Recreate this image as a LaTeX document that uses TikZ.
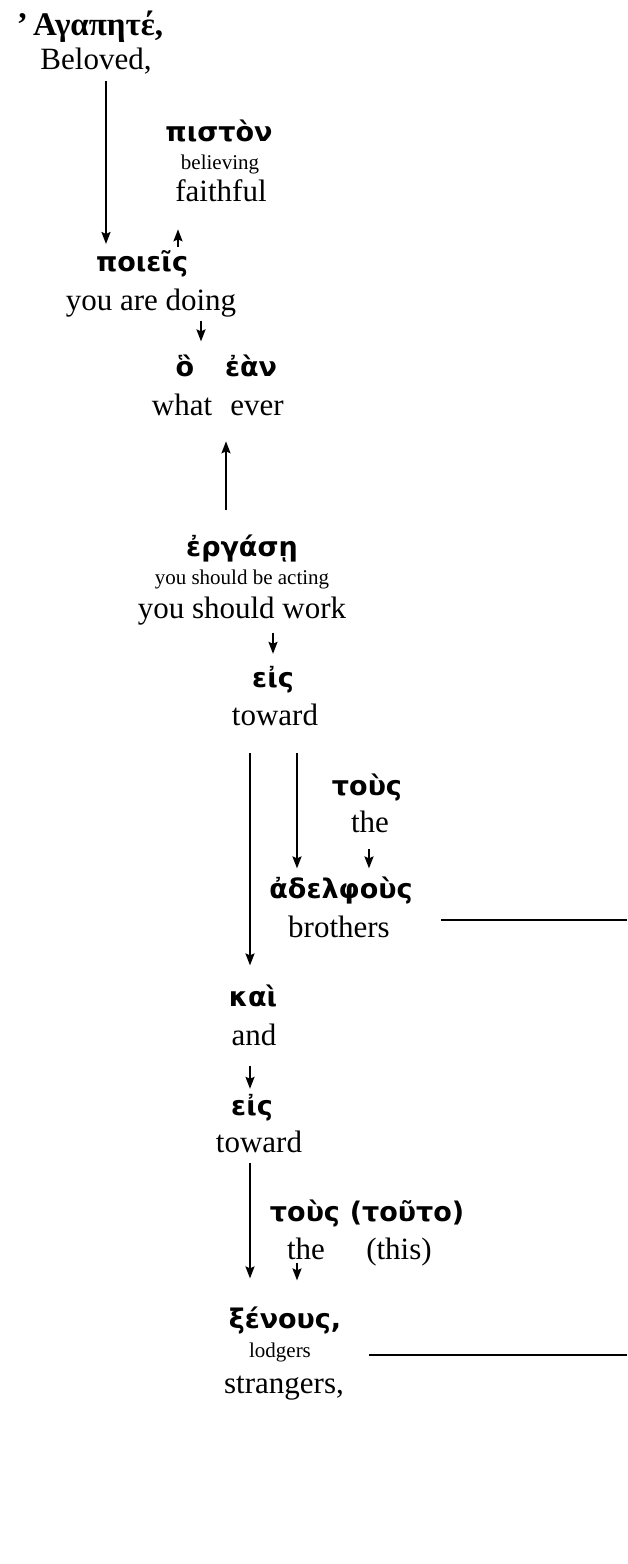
\documentclass[tikz,border=0pt]{standalone}
\usepackage{fontspec}
\setmainfont{Liberation Serif}
\newfontfamily\greekfont{DejaVu Sans}
\usetikzlibrary{arrows.meta}

\begin{document}
\begin{tikzpicture}[x=1pt,y=-1pt,->,>={Stealth[length=12pt,width=9pt,inset=2pt]},shorten >=1pt,line width=2pt,
    gk/.style={anchor=base,inner sep=0pt,font=\greekfont\bfseries\fontsize{27}{30}\selectfont},
    gkserif/.style={anchor=base,inner sep=0pt,font=\bfseries\fontsize{33}{38}\selectfont},
    en/.style={anchor=base,inner sep=0pt,font=\fontsize{31}{36}\selectfont},
    sm/.style={anchor=base,inner sep=0pt,font=\fontsize{21}{24}\selectfont}]
  \useasboundingbox (0,0) rectangle (628,1564);

  \node[gkserif] (agapete) at (90,35) {’\,Αγαπητέ,};
  \node[en] (beloved) at (96,69) {Beloved,};
  \node[gk] (piston) at (219,141) {πιστὸν};
  \node[sm] (believing) at (220,169) {believing};
  \node[en] (faithful) at (221,201) {faithful};
  \node[gk] (poieis) at (142,271) {ποιεῖς};
  \node[en] (doing) at (151,310) {you are doing};
  \node[gk] (ho) at (185,376) {ὃ};
  \node[gk] (ean) at (251,376) {ἐὰν};
  \node[en] (what) at (182,415) {what};
  \node[en] (ever) at (257,415) {ever};
  \node[gk] (ergase) at (242,556) {ἐργάσῃ};
  \node[sm] (acting) at (242,584) {you should be acting};
  \node[en] (work) at (242,618) {you should work};
  \node[gk] (eis) at (273,687) {εἰς};
  \node[en] (toward) at (275,725) {toward};
  \node[gk] (tous) at (367,795) {τοὺς};
  \node[en] (the) at (370,832) {the};
  \node[gk] (adelphous) at (341,898) {ἀδελφοὺς};
  \node[en] (brothers) at (339,937) {brothers};
  \node[gk] (kai) at (253,1006) {καὶ};
  \node[en] (and) at (254,1045) {and};
  \node[gk] (eisB) at (252,1115) {εἰς};
  \node[en] (towardB) at (259,1152) {toward};
  \node[gk] (tousB) at (305,1221) {τοὺς};
  \node[gk] (touto) at (407,1221) {(τοῦτο)};
  \node[en] (theB) at (306,1259) {the};
  \node[en] (this) at (399,1259) {(this)};
  \node[gk] (xenous) at (285,1328) {ξένους,};
  \node[sm] (lodgers) at (280,1357) {lodgers};
  \node[en] (strangers) at (284,1393) {strangers,};

  \coordinate (rimA) at (628,920);
  \coordinate (rimB) at (628,1355);

  \path
    ([xshift=10pt]beloved.south) edge [shorten <=6pt,shorten >=5pt] ([xshift=10pt]beloved.south |- poieis.north)
    ([xshift=36pt]poieis.north) edge [shorten <=2pt,shorten >=27pt] ([xshift=36pt]poieis.north |- faithful.south)
    ([xshift=50pt]doing.south) edge [shorten <=3pt,shorten >=12pt] ([xshift=50pt]doing.south |- ho.north)
    ([xshift=-16pt]ergase.north) edge [shorten <=23pt,shorten >=25pt] ([xshift=-16pt]ergase.north |- ever.south)
    ([xshift=31pt]work.south) edge [shorten <=7pt,shorten >=11pt] ([xshift=31pt]work.south |- eis.north)
    ([xshift=-25pt]toward.south) edge [shorten <=27pt,shorten >=18pt] ([xshift=-25pt]toward.south |- kai.north)
    ([xshift=22pt]toward.south) edge [shorten <=27pt,shorten >=7pt] ([xshift=22pt]toward.south |- adelphous.north)
    ([xshift=-1pt]the.south) edge [shorten <=16pt,shorten >=7pt] ([xshift=-1pt]the.south |- adelphous.north)
    ([xshift=-4pt]and.south) edge [shorten <=20pt,shorten >=4pt] ([xshift=-4pt]and.south |- eisB.north)
    ([xshift=-9pt]towardB.south) edge [shorten <=10pt,shorten >=27pt] ([xshift=-9pt]towardB.south |- xenous.north)
    ([xshift=-9pt]theB.south) edge [shorten <=3pt,shorten >=25pt] ([xshift=-9pt]theB.south |- xenous.north);

  \draw[-,line width=1.6pt] ([xshift=50pt]brothers.east |- rimA) -- (rimA);
  \draw[-,line width=1.6pt] ([xshift=57pt]lodgers.east |- rimB) -- (rimB);
\end{tikzpicture}
\end{document}
